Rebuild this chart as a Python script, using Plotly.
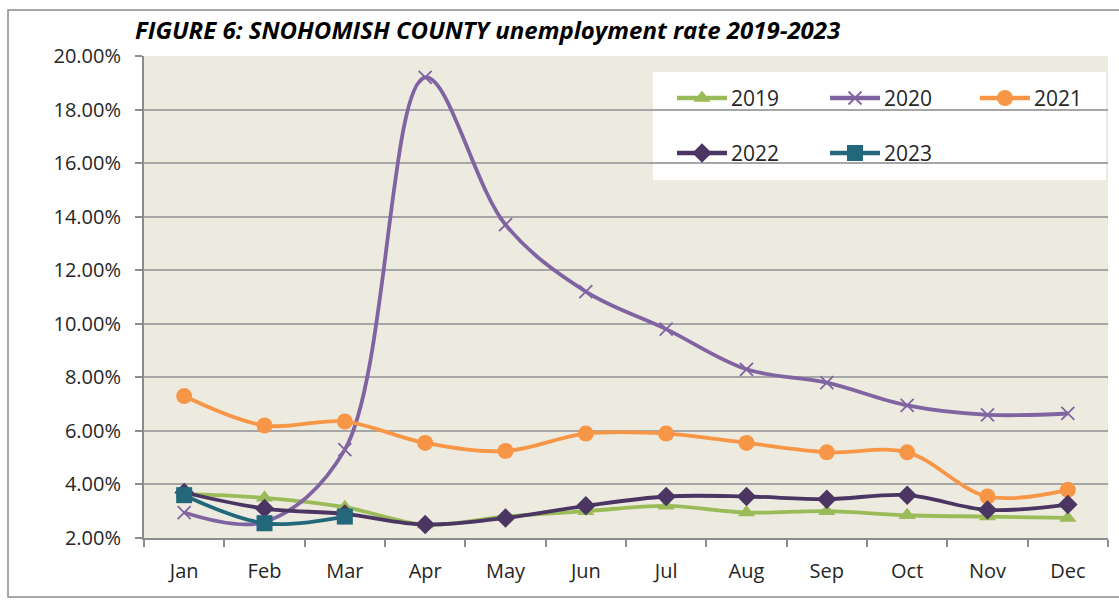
import plotly.graph_objects as go

# Monthly unemployment rate (%) for Snohomish County
months = ["Jan", "Feb", "Mar", "Apr", "May", "Jun", "Jul", "Aug", "Sep", "Oct", "Nov", "Dec"]
rate_2019 = [3.65, 3.5, 3.15, 2.5, 2.8, 3.0, 3.2, 2.95, 3.0, 2.85, 2.8, 2.75]
rate_2020 = [2.95, 2.6, 5.3, 19.2, 13.7, 11.2, 9.8, 8.3, 7.8, 6.95, 6.6, 6.65]
rate_2021 = [7.3, 6.2, 6.35, 5.55, 5.25, 5.9, 5.9, 5.55, 5.2, 5.2, 3.55, 3.8]
rate_2022 = [3.7, 3.1, 2.9, 2.5, 2.75, 3.2, 3.55, 3.55, 3.45, 3.6, 3.05, 3.25]
rate_2023 = [3.6, 2.55, 2.8]

year_labels = ["2019", "2020", "2021", "2022", "2023"]
year_values = [rate_2019, rate_2020, rate_2021, rate_2022, rate_2023]

y_ticks = [2, 4, 6, 8, 10, 12, 14, 16, 18, 20]
y_tick_text = [f"{v:.2f}%" for v in y_ticks]

styles = {
    "2019": dict(color="#9BBB59", symbol="triangle-up", size=15),
    "2020": dict(color="#8064A2", symbol="x-thin", size=13),
    "2021": dict(color="#F79646", symbol="circle", size=16),
    "2022": dict(color="#4A3563", symbol="diamond", size=15),
    "2023": dict(color="#22687A", symbol="square", size=16),
}

FONT = "Open Sans"
W, H = 1119, 601
L, R, T, B = 144, 1108, 56, 538  # plot area in pixels


def marker_for(st):
    m = dict(color=st["color"], symbol=st["symbol"], size=st["size"])
    if st["symbol"] == "x-thin":
        m["line"] = dict(color=st["color"], width=1.8)
    return m


fig = go.Figure()

for name, vals in zip(year_labels, year_values):
    st = styles[name]
    fig.add_trace(go.Scatter(
        x=months[:len(vals)], y=vals, name=name,
        mode="lines+markers",
        line=dict(color=st["color"], width=3.8, shape="spline", smoothing=1.0),
        marker=marker_for(st), showlegend=False, cliponaxis=False,
    ))

# Legend box drawn on a pixel-space overlay axis
legend_pos = {
    "2019": (677, 98), "2020": (830, 98), "2021": (980, 98),
    "2022": (677, 153), "2023": (830, 153),
}
for name in year_labels:
    st = styles[name]
    x0, y0 = legend_pos[name]
    fig.add_trace(go.Scatter(
        x=[x0, x0 + 50], y=[y0, y0], mode="lines", xaxis="x2", yaxis="y2",
        line=dict(color=st["color"], width=4.5), showlegend=False, hoverinfo="skip",
    ))
    fig.add_trace(go.Scatter(
        x=[x0 + 25], y=[y0], mode="markers", xaxis="x2", yaxis="y2",
        marker=marker_for(st), showlegend=False, hoverinfo="skip",
    ))
    fig.add_annotation(
        x=x0 + 52, y=y0, xref="x2", yref="y2", text=name, showarrow=False,
        xanchor="left", yanchor="middle", font=dict(family=FONT, size=21, color="#262626"),
    )

fig.add_shape(type="rect", xref="x2", yref="y2", x0=653, x1=1106, y0=72, y1=180,
              fillcolor="white", line=dict(width=0), layer="below")

# Outer chart border
fig.add_shape(type="rect", xref="paper", yref="paper",
              x0=(8 - L) / (R - L), x1=(1130 - L) / (R - L),
              y0=(B - 597) / (B - T), y1=(B - 10) / (B - T),
              line=dict(color="#8C8C8C", width=1.5), fillcolor="rgba(0,0,0,0)")

fig.update_layout(
    width=W, height=H,
    margin=dict(l=L, r=W - R, t=T, b=H - B),
    paper_bgcolor="white",
    plot_bgcolor="#EDEAE0",
    font=dict(family=FONT, size=18, color="#262626"),
    title=dict(
        text="FIGURE 6: SNOHOMISH COUNTY unemployment rate 2019-2023",
        x=135 / W, xanchor="left", y=1 - 31 / H, yanchor="middle",
        font=dict(family=FONT, size=24, color="#000000", weight="bold", style="italic"),
    ),
    xaxis=dict(
        type="category", categoryorder="array", categoryarray=months,
        range=[-0.5, 11.5], showgrid=False, zeroline=False,
        showline=True, linecolor="#8C8C8C", linewidth=2,
        ticks="outside", tickson="boundaries", ticklen=7, tickcolor="#8C8C8C", tickwidth=2,
        tickfont=dict(family=FONT, size=20, color="#262626"), ticklabelstandoff=14,
    ),
    yaxis=dict(
        range=[2, 20], tickvals=y_ticks, ticktext=y_tick_text,
        showgrid=True, gridcolor="#A6A6A6", gridwidth=1.5, zeroline=False,
        showline=True, linecolor="#8C8C8C", linewidth=2,
        ticks="outside", ticklen=7, tickcolor="#8C8C8C", tickwidth=2,
        tickfont=dict(family=FONT, size=20, color="#262626"), ticklabelstandoff=10,
    ),
    xaxis2=dict(domain=[0, 1], range=[L, R], overlaying="x", anchor="y2", visible=False, fixedrange=True),
    yaxis2=dict(domain=[0, 1], range=[B, T], overlaying="y", anchor="x2", visible=False, fixedrange=True),
)

fig.write_html("out.html")
